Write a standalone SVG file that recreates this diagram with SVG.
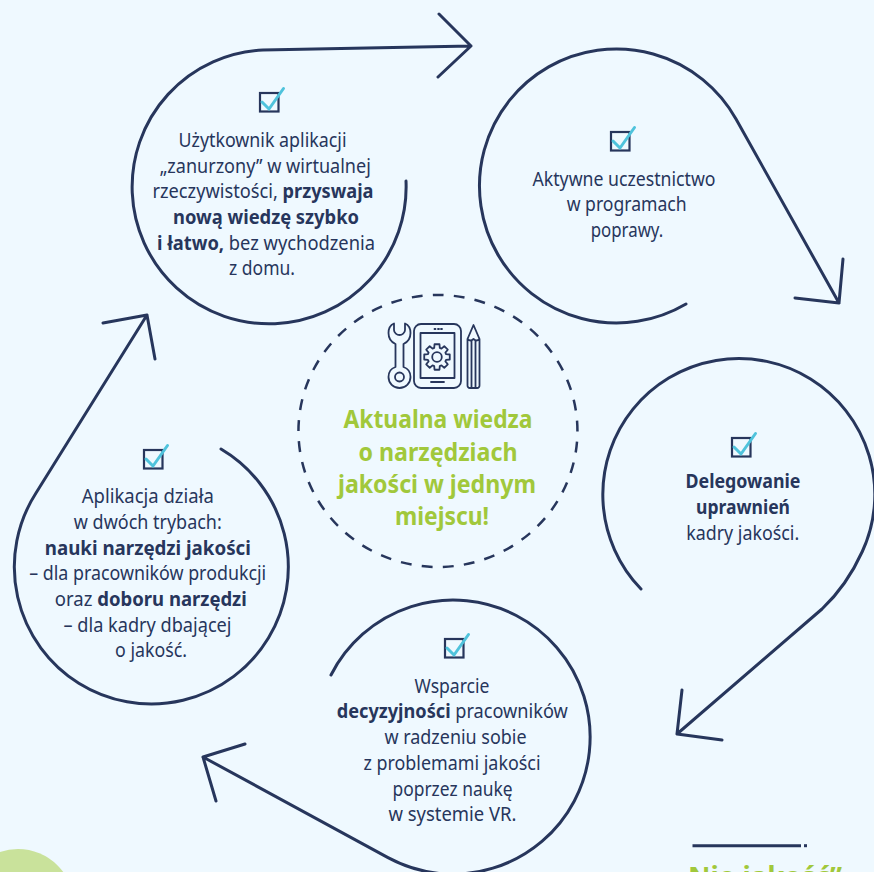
<svg xmlns="http://www.w3.org/2000/svg" width="874" height="872" viewBox="0 0 874 872">
<style>
.c{fill:none;stroke:#27365c;stroke-width:3;stroke-linecap:round;stroke-linejoin:round}
.t{font-family:"Noto Sans","Liberation Sans",sans-serif;font-size:19px;fill:#27365c;text-anchor:middle}
.b{font-weight:700}
.g{font-family:"Noto Sans","Liberation Sans",sans-serif;font-size:25px;font-weight:700;fill:#a1c83b;text-anchor:middle}
.i{fill:none;stroke:#27365c;stroke-width:1.8;stroke-linejoin:round;stroke-linecap:round}
</style>
<defs>
<g id="check"><rect x="1" y="1" width="18.500" height="18.500" fill="none" stroke="#27365c" stroke-width="2.200"/><path d="M3 10L10 17L24.500-3.500" fill="none" stroke="#4fc3dc" stroke-width="3" stroke-linecap="round" stroke-linejoin="round"/></g>
</defs>
<rect width="874" height="872" fill="#eff9ff"/>
<circle id="accent" cx="18" cy="905" r="56" fill="#c9e29b"/>
<g id="connectors">
<path class="c" d="M406 181A137 137 0 1 1 263 50L471 46M439 14L471 46L438 77"/>
<path class="c" d="M686 304A137 137 0 1 1 736 119L839 303M795 298L839 303L843 259"/>
<path class="c" d="M641 589A136 136 0 1 1 862.300 551.500C853 572 840 592 822 609L677 734M682 690L677 734L722 740"/>
<path class="c" d="M331 675A137 137 0 1 1 388 857.600L203 757M245 744L203 757L216 801"/>
<path class="c" d="M221 449A137 137 0 1 1 36 493L147 315M103 323L147 315L155 359"/>
</g>
<g id="center">
<path d="M438 295A139.500 136 0 1 1 437.900 295Z" pathLength="873.300" fill="none" stroke="#27365c" stroke-width="2.500" stroke-dasharray="11 10.300" stroke-dashoffset="5.300"/>
<g id="icon" class="i">
<path d="M403.500 367V344C408 342 410.500 338 410.500 333C410.500 329 408.500 325 405 323.500V330C405 333 402 335 399.500 335C397 335 394 333 394 330V323.500C390.500 325 388.500 329 388.500 333C388.500 338 391 342 395.500 344V367C391 368.500 388.500 372.500 388.500 377A11 11 0 0 0 410.500 377C410.500 372.500 408 368.500 403.500 367Z"/>
<circle cx="399.500" cy="377" r="4.500"/>
<rect x="414" y="324" width="47" height="64" rx="7"/>
<rect x="420.500" y="333" width="34" height="45"/>
<path d="M431 382H444M434.500 329H435.500M438 329H439M441 329H442"/>
<path transform="translate(437 357)" d="M9.080-2.780L12.760-2.480L12.760 2.480L9.080 2.780L8.390 4.450L10.780 7.270L7.270 10.780L4.450 8.390L2.780 9.080L2.480 12.760L-2.480 12.760L-2.780 9.080L-4.450 8.390L-7.270 10.780L-10.780 7.270L-8.390 4.450L-9.080 2.780L-12.760 2.480L-12.760-2.480L-9.080-2.780L-8.390-4.450L-10.780-7.270L-7.270-10.780L-4.450-8.390L-2.780-9.080L-2.480-12.760L2.480-12.760L2.780-9.080L4.450-8.390L7.270-10.780L10.780-7.270L8.390-4.450Z"/>
<circle cx="437" cy="357" r="4.800"/>
<path d="M467.500 339L473.500 325L479.500 339V385A2.500 2.500 0 0 1 477 388H470A2.500 2.500 0 0 1 467.500 385ZM467.500 339Q470.500 342 473.500 339Q476.500 342 479.500 339M471.500 341V387M475.500 341V387"/>
</g>
<text class="g" x="438" y="428" textLength="189" lengthAdjust="spacingAndGlyphs">Aktualna wiedza</text>
<text class="g" x="438" y="461" textLength="159" lengthAdjust="spacingAndGlyphs">o narzędziach</text>
<text class="g" x="437" y="493" textLength="198" lengthAdjust="spacingAndGlyphs">jakości w jednym</text>
<text class="g" x="442" y="525" textLength="94" lengthAdjust="spacingAndGlyphs">miejscu!</text>
</g>
<g id="node1"><use href="#check" x="259" y="92"/>
<text class="t" x="262.500" y="147" textLength="168" lengthAdjust="spacingAndGlyphs">Użytkownik aplikacji</text>
<text class="t" x="265.300" y="173" textLength="211" lengthAdjust="spacingAndGlyphs">„zanurzony” w wirtualnej</text>
<text class="t" x="263" y="198" textLength="221" lengthAdjust="spacingAndGlyphs">rzeczywistości, <tspan class="b">przyswaja</tspan></text>
<text class="t b" x="266" y="224" textLength="186" lengthAdjust="spacingAndGlyphs">nową wiedzę szybko</text>
<text class="t" x="266" y="250" textLength="218" lengthAdjust="spacingAndGlyphs"><tspan class="b">i łatwo,</tspan> bez wychodzenia</text>
<text class="t" x="262" y="275" textLength="66" lengthAdjust="spacingAndGlyphs">z domu.</text></g>
<g id="node2"><use href="#check" x="610" y="131"/>
<text class="t" x="624" y="186" textLength="183" lengthAdjust="spacingAndGlyphs">Aktywne uczestnictwo</text>
<text class="t" x="626.700" y="211" textLength="120" lengthAdjust="spacingAndGlyphs">w programach</text>
<text class="t" x="627" y="236.500" textLength="72.600" lengthAdjust="spacingAndGlyphs">poprawy.</text></g>
<g id="node3"><use href="#check" x="731" y="437"/>
<text class="t b" x="743" y="488" textLength="115" lengthAdjust="spacingAndGlyphs">Delegowanie</text>
<text class="t b" x="743" y="514" textLength="94" lengthAdjust="spacingAndGlyphs">uprawnień</text>
<text class="t" x="742.700" y="540" textLength="113" lengthAdjust="spacingAndGlyphs">kadry jakości.</text></g>
<g id="node4"><use href="#check" x="444" y="638"/>
<text class="t" x="452" y="693" textLength="75" lengthAdjust="spacingAndGlyphs">Wsparcie</text>
<text class="t" x="452.300" y="718" textLength="231" lengthAdjust="spacingAndGlyphs"><tspan class="b">decyzyjności</tspan> pracowników</text>
<text class="t" x="455.500" y="744" textLength="142" lengthAdjust="spacingAndGlyphs">w radzeniu sobie</text>
<text class="t" x="452" y="770" textLength="177" lengthAdjust="spacingAndGlyphs">z problemami jakości</text>
<text class="t" x="452.500" y="796" textLength="120" lengthAdjust="spacingAndGlyphs">poprzez naukę</text>
<text class="t" x="452.500" y="821" textLength="128" lengthAdjust="spacingAndGlyphs">w systemie VR.</text></g>
<g id="node5"><use href="#check" x="143" y="449"/>
<text class="t" x="147.800" y="503" textLength="132" lengthAdjust="spacingAndGlyphs">Aplikacja działa</text>
<text class="t" x="147.800" y="529" textLength="148" lengthAdjust="spacingAndGlyphs">w dwóch trybach:</text>
<text class="t b" x="147.800" y="554.500" textLength="206" lengthAdjust="spacingAndGlyphs">nauki narzędzi jakości</text>
<text class="t" x="147.700" y="580" textLength="237" lengthAdjust="spacingAndGlyphs">– dla pracowników produkcji</text>
<text class="t" x="150.800" y="606" textLength="192" lengthAdjust="spacingAndGlyphs">oraz <tspan class="b">doboru narzędzi</tspan></text>
<text class="t" x="147.500" y="631.500" textLength="168" lengthAdjust="spacingAndGlyphs">– dla kadry dbającej</text>
<text class="t" x="151" y="657" textLength="72" lengthAdjust="spacingAndGlyphs">o jakość.</text></g>
<g id="quote"><path d="M692.500 845.700H801" stroke="#27365c" stroke-width="3" fill="none"/><rect x="804" y="844.200" width="3" height="3" fill="#27365c"/>
<text class="g" x="765" y="886" style="font-size:27px" textLength="154" lengthAdjust="spacingAndGlyphs">Nie jakość”</text></g>
</svg>
